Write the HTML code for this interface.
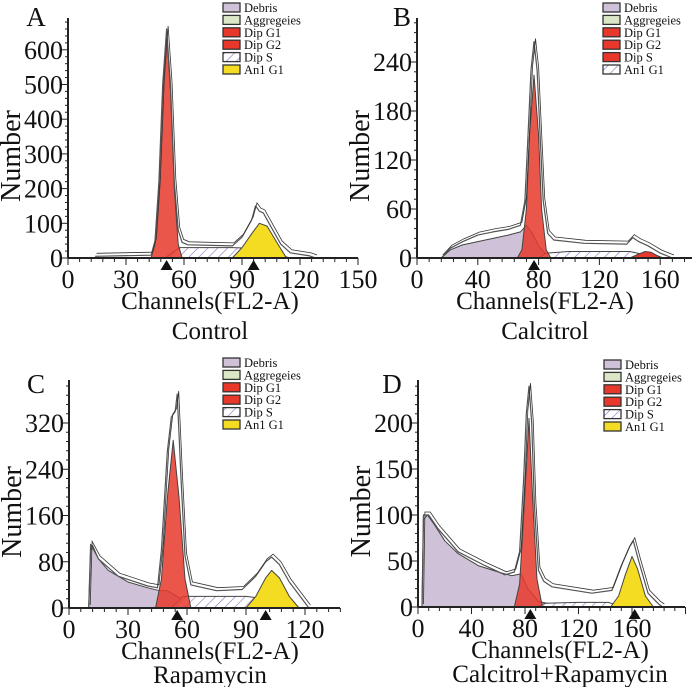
<!DOCTYPE html>
<html><head><meta charset="utf-8"><style>
html,body{margin:0;padding:0;background:#fff;}
svg{display:block;font-family:"Liberation Serif",serif;}
</style></head><body>
<svg id="chart" width="700" height="687" viewBox="0 0 700 687" xmlns="http://www.w3.org/2000/svg">
<defs>
<pattern id="hatch" patternUnits="userSpaceOnUse" width="7" height="7" patternTransform="rotate(45)">
<rect width="7" height="7" fill="#fff"/><line x1="0" y1="0" x2="0" y2="7" stroke="#8a6fc0" stroke-width="1.2"/>
</pattern>
</defs>
</svg>
<script>
// ---- Panel A (Control) ----
const aXTicks = [0,30,60,90,120,150];
const aYTicks = [0,100,200,300,400,500,600];
const aDebris = [];
const aG1 = [[43,0],[45,40],[47,200],[49,480],[51,650],[53,480],[55,200],[57,40],[59,0]];
const aG2 = [];
const aS = [[50,0],[55,20],[58,30],[70,30],[85,30],[95,28],[105,15],[115,0]];
const aAn = [[85,0],[90,30],[95,70],[99,100],[103,92],[108,45],[113,0]];
const aTotal = [[14,5],[43,8],[45,50],[47,220],[49,500],[51,660],[53,500],[55,220],[57,80],[59,45],[62,38],[85,35],[90,60],[95,110],[97,150],[99,135],[101,130],[105,90],[110,40],[115,15],[125,6],[128,0]];
const aMarks = [51,96];
// ---- Panel B (Calcitrol) ----
const bXTicks = [0,40,80,120,160];
const bYTicks = [0,60,120,180,240];
const bDebris = [[16,0],[22,10],[30,16],[45,22],[60,28],[68,32],[72,40],[76,30],[80,15],[85,4],[100,2],[140,2],[150,0]];
const bG1 = [[66,0],[69,10],[72,60],[74,150],[77,224],[80,150],[82,60],[85,10],[88,0]];
const bG2 = [[140,0],[145,4],[150,8],[154,7],[158,3],[162,0]];
const bS = [[80,0],[85,6],[100,8],[140,8],[150,4],[160,0]];
const bAn = [];
const bTotal = [[16,0],[22,12],[30,20],[40,28],[50,32],[60,35],[68,40],[71,70],[73,150],[75,230],[77,265],[79,230],[81,150],[83,70],[86,30],[90,22],[110,18],[138,17],[142,25],[146,20],[152,15],[160,6],[168,0]];
const bMarks = [77];
// ---- Panel C (Rapamycin) ----
const cXTicks = [0,30,60,90,120];
const cYTicks = [0,80,160,240,320];
const cDebris = [[10,0],[11,100],[12,108],[15,85],[20,65],[30,45],[40,35],[46,30],[50,30],[55,20],[60,10],[80,4],[100,2],[110,0]];
const cG1 = [[44,0],[47,50],[50,190],[53,290],[56,190],[59,50],[62,0]];
const cG2 = [];
const cS = [[52,0],[58,20],[70,20],[90,20],[100,16],[110,5],[115,0]];
const cAn = [[90,0],[95,20],[100,52],[103,65],[107,52],[112,20],[117,0]];
const cTotal = [[10,0],[11,110],[15,85],[25,55],[40,38],[45,35],[47,100],[50,270],[52,330],[54,340],[55,370],[57,220],[59,90],[62,40],[75,30],[88,32],[95,55],[100,80],[103,88],[107,75],[112,45],[118,18],[122,0]];
const cMarks = [55,100];
// ---- Panel D (Calcitrol+Rapamycin) ----
const dXTicks = [0,40,80,120,160];
const dYTicks = [0,50,100,150,200];
const dDebris = [[3,0],[4,95],[7,100],[12,90],[20,72],[30,58],[45,45],[60,38],[70,34],[77,36],[82,20],[90,6],[100,3],[140,2],[150,0]];
const dG1 = [[72,0],[76,25],[79,100],[83,205],[86,110],[89,30],[93,0]];
const dG2 = [];
const dS = [[88,0],[95,4],[120,5],[142,5],[150,2],[155,0]];
const dAn = [[144,0],[150,12],[155,35],[160,55],[164,42],[170,12],[176,0]];
const dTotal = [[3,0],[4,100],[8,100],[15,85],[30,60],[50,45],[65,35],[72,38],[76,60],[79,140],[81,210],[83,240],[85,200],[87,110],[90,40],[94,28],[100,22],[130,15],[145,18],[152,45],[158,65],[161,72],[165,50],[172,15],[180,3],[183,0]];
const dMarks = [84,162];

const legendLabels = ["Debris","Aggregeies","Dip G1","Dip G2","Dip S","An1 G1"];
const legendFillsStd = ["#cfc2d8","#dbe7c6","#e8382c","#e8382c","url(#hatch)","#f4dc22"];
const legendFillsB = ["#cfc2d8","#dbe7c6","#e8382c","#e8382c","#e8382c","url(#hatch)"];

const NS = "http://www.w3.org/2000/svg";
const svg = document.getElementById('chart');
function mk(tag, attrs, parent){const e=document.createElementNS(NS,tag);for(const k in attrs)e.setAttribute(k,attrs[k]);(parent||svg).appendChild(e);return e;}

const panels = [
 {id:'a',letter:'A',lx:36,ly:26,x0:68,xUnit:58/30,xEnd:358,yBase:258,yUnit:34.7/100,yTop:18,xt:aXTicks,yt:aYTicks,debris:aDebris,g1:aG1,g2:aG2,s:aS,an:aAn,total:aTotal,marks:aMarks,legX:223,legY:2,legF:legendFillsStd,cond:"Control",tx:210},
 {id:'b',letter:'B',lx:402,ly:26,x0:417,xUnit:60.8/40,xEnd:692,yBase:258,yUnit:49/60,yTop:18,xt:bXTicks,yt:bYTicks,debris:bDebris,g1:bG1,g2:bG2,s:bS,an:bAn,total:bTotal,marks:bMarks,legX:603,legY:2,legF:legendFillsB,cond:"Calcitrol",tx:545},
 {id:'c',letter:'C',lx:36,ly:393,x0:69,xUnit:59/30,xEnd:340,yBase:608,yUnit:46.25/80,yTop:380,xt:cXTicks,yt:cYTicks,debris:cDebris,g1:cG1,g2:cG2,s:cS,an:cAn,total:cTotal,marks:cMarks,legX:223,legY:357,legF:legendFillsStd,cond:"Rapamycin",tx:210},
 {id:'d',letter:'D',lx:392,ly:393,x0:418,xUnit:53.5/40,xEnd:685,yBase:607,yUnit:46/50,yTop:380,xt:dXTicks,yt:dYTicks,debris:dDebris,g1:dG1,g2:dG2,s:dS,an:dAn,total:dTotal,marks:dMarks,legX:604,legY:359,legF:legendFillsStd,cond:"Calcitrol+Rapamycin",tx:560}
];

panels.forEach(p=>{
 const g = mk('g',{});
 
 
 const X = v=>p.x0+v*p.xUnit;
 const Y = v=>p.yBase-v*p.yUnit;
 function area(pts,fill,name,op){
  if(!pts.length)return;
  let d='M'+X(pts[0][0])+','+p.yBase;
  pts.forEach(q=>{d+=' L'+X(q[0]).toFixed(1)+','+Y(q[1]).toFixed(1);});
  d+=' L'+X(pts[pts.length-1][0])+','+p.yBase+' Z';
  const e=mk('path',{d:d,fill:fill,stroke:'#444','stroke-width':1,'fill-opacity':op||1,'stroke-linejoin':'round'},g);
  
  
 }
 area(p.debris,'#cfc2d8','debris-area');
 area(p.s,'url(#hatch)','dip-s-area');
 area(p.g2,'#e8382c','dip-g2-area');
 area(p.an,'#f4dc22','an1-g1-area');
 area(p.g1,'#e8382c','dip-g1-area',0.85);
 let d='';
 p.total.forEach((q,i)=>{d+=(i?' L':'M')+X(q[0]).toFixed(1)+','+Y(q[1]).toFixed(1);});
 const o1=mk('path',{d:d,fill:'none',stroke:'#555','stroke-width':1.2,'stroke-linejoin':'round'},g);
 
 
 const o2=mk('path',{d:d,fill:'none',stroke:'#333','stroke-width':0.8,transform:'translate(1.5,-3)'},g);
 
 
 const ya=mk('line',{x1:p.x0,y1:p.yTop,x2:p.x0,y2:p.yBase,stroke:'#222','stroke-width':2},g);
 
 
 const xa=mk('line',{x1:p.x0,y1:p.yBase,x2:p.xEnd,y2:p.yBase,stroke:'#222','stroke-width':2},g);
 
 
 const ystep=p.yt[1]-p.yt[0];
 for(let v=0;Y(v)>=p.yTop;v+=ystep/5){
  mk('line',{x1:p.x0-(Math.abs(v%ystep)<1e-6?6:3),y1:Y(v),x2:p.x0,y2:Y(v),stroke:'#222','stroke-width':1},g);
 }
 p.yt.forEach(v=>{
  const t=mk('text',{x:p.x0-5,y:Y(v)+9,'text-anchor':'end','font-size':26,fill:'#111'},g);
  t.textContent=v;
  
  
 });
 const xstep=p.xt[1]-p.xt[0];
 for(let v=0;X(v)<=p.xEnd+0.5;v+=xstep/5){
  const major=Math.abs(v%xstep)<1e-6;
  mk('line',{x1:X(v),y1:p.yBase,x2:X(v),y2:p.yBase+(major?7:4),stroke:'#222','stroke-width':1},g);
 }
 p.xt.forEach(v=>{
  const t=mk('text',{x:X(v),y:p.yBase+30,'text-anchor':'middle','font-size':26,fill:'#111'},g);
  t.textContent=v;
  
  
 });
 p.marks.forEach(v=>{
  const m=mk('polygon',{points:(X(v)-6)+','+(p.yBase+12)+' '+(X(v)+6)+','+(p.yBase+12)+' '+X(v)+','+(p.yBase+2),fill:'#111'},g);
  
  
 });
 const yt=mk('text',{x:0,y:0,'text-anchor':'middle','font-size':28,fill:'#111',transform:'translate('+(p.x0-48)+','+((p.yBase+p.yTop)/2+18)+') rotate(-90)'},g);
 yt.textContent='Number';
 
 
 const xt=mk('text',{x:p.tx,y:p.yBase+51,'text-anchor':'middle','font-size':25,fill:'#111'},g);
 xt.textContent='Channels(FL2-A)';
 
 
 const ct=mk('text',{x:p.tx,y:p.yBase+(p.id=='c'||p.id=='d'?75:81),'text-anchor':'middle','font-size':25,fill:'#111'},g);
 ct.textContent=p.cond;
 
 
 const lt=mk('text',{x:p.lx,y:p.ly,'text-anchor':'middle','font-size':27,fill:'#111'},g);
 lt.textContent=p.letter;
 
 
 legendLabels.forEach((lab,i)=>{
  const yy=p.legY+i*12.4;
  const b=mk('rect',{x:p.legX,y:yy+1,width:17,height:9,fill:p.legF[i],stroke:'#333','stroke-width':1.3},g);
  
  
  const t=mk('text',{x:p.legX+21,y:yy+10,'font-size':12.5,fill:'#111'},g);
  t.textContent=lab;
  
  
 });
});
</script>
</body></html>
